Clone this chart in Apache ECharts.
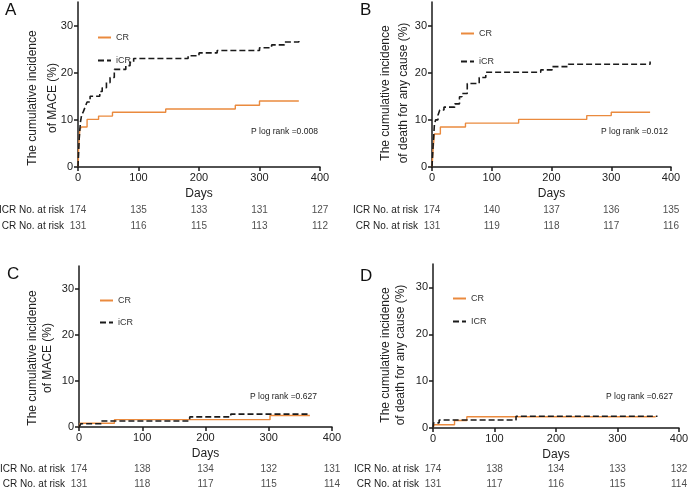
<!DOCTYPE html>
<html><head><meta charset="utf-8">
<script src="https://cdn.jsdelivr.net/npm/echarts@6/dist/echarts.min.js"></script>
<style>html,body{margin:0;padding:0;background:#fff}#c{width:692px;height:490px}</style>
</head><body><div id="c"></div>
<script>
const FONT = '"Liberation Sans", Arial, Helvetica, sans-serif';
const riskDays = [0, 100, 200, 300, 400];
const riskRows = ['ICR No. at risk', 'CR No. at risk'];
const yTicks = [0, 10, 20, 30];

// Panel A: MACE
const aIcrDays = [0, 2, 4, 6, 9, 12, 15, 20, 36, 40, 47, 53, 60, 79, 86, 92, 182, 200, 230, 300, 320, 341, 365];
const aIcrVals = [0, 6, 9.5, 11, 11.8, 12.8, 13.8, 15, 16, 16.8, 17.9, 19, 20.7, 21.5, 22.2, 23, 23.6, 24.2, 24.7, 25.3, 25.9, 26.5, 27.1];
const aCrDays = [0, 1, 3, 6, 15, 34, 57, 145, 260, 300, 365];
const aCrVals = [0, 4, 8, 8.5, 10.1, 10.8, 11.6, 12.3, 13.1, 14, 14.1];
const aRiskIcr = [174, 135, 133, 131, 127];
const aRiskCr = [131, 116, 115, 113, 112];

// Panel B: death for any cause
const bIcrDays = [0, 2, 4, 6, 10, 13, 20, 38, 46, 50, 59, 79, 90, 182, 201, 228, 365];
const bIcrVals = [0, 5, 8.9, 10, 11, 12.1, 12.7, 13.4, 14.9, 15.6, 17.7, 19, 20.1, 20.6, 21.3, 21.8, 22.4];
const bCrDays = [0, 2, 4, 14, 56, 145, 259, 300, 365];
const bCrVals = [0, 4, 7, 8.5, 9.3, 10.1, 10.9, 11.6, 11.7];
const bRiskIcr = [174, 140, 137, 136, 135];
const bRiskCr = [131, 119, 118, 117, 116];

// Panel C: MACE
const cIcrDays = [0, 3, 35, 175, 240, 365];
const cIcrVals = [0, 0.7, 1.3, 2.2, 2.8, 2.8];
const cCrDays = [0, 2, 56, 302, 365];
const cCrVals = [0, 0.8, 1.6, 2.5, 2.5];
const cRiskIcr = [174, 138, 134, 132, 131];
const cRiskCr = [131, 118, 117, 115, 114];

// Panel D: death for any cause
const dIcrDays = [0, 1, 10, 135, 365];
const dIcrVals = [0, 1.1, 1.7, 2.5, 2.5];
const dCrDays = [0, 2, 35, 55, 362];
const dCrVals = [0, 0.7, 1.6, 2.4, 2.4];
const dRiskIcr = [174, 138, 134, 133, 132];
const dRiskCr = [131, 117, 116, 115, 114];

const panels = [
  {letter:'A', lx:5, ly:2, grid:{left:78, top:2, width:242, height:165}, table:{left:78, top:202, width:242, height:32},
   icrName:'iCR', icrD:aIcrDays, icrV:aIcrVals, crD:aCrDays, crV:aCrVals, rI:aRiskIcr, rC:aRiskCr,
   title:'The cumulative incidence\nof MACE (%)', tx:43, ty:98, tlh:20, p:'P log rank =0.008', px:251, py:132,
   leg:{left:92, top:28, gap:14}},
  {letter:'B', lx:360, ly:2, grid:{left:432, top:2, width:239, height:165}, table:{left:432, top:202, width:239, height:32},
   icrName:'iCR', icrD:bIcrDays, icrV:bIcrVals, crD:bCrDays, crV:bCrVals, rI:bRiskIcr, rC:bRiskCr,
   title:'The cumulative incidence\nof death for any cause (%)', tx:395, ty:93, tlh:18, p:'P log rank =0.012', px:601, py:132,
   leg:{left:455, top:24, gap:19}},
  {letter:'C', lx:7, ly:266, grid:{left:79, top:266, width:253, height:161}, table:{left:79, top:461.5, width:253, height:30},
   icrName:'iCR', icrD:cIcrDays, icrV:cIcrVals, crD:cCrDays, crV:cCrVals, rI:cRiskIcr, rC:cRiskCr,
   title:'The cumulative incidence\nof MACE (%)', tx:40.5, ty:358, tlh:15, p:'P log rank =0.627', px:250, py:397,
   leg:{left:94, top:291, gap:13}},
  {letter:'D', lx:360, ly:268, grid:{left:433, top:264, width:246, height:164}, table:{left:433, top:461.5, width:246, height:30},
   icrName:'ICR', icrD:dIcrDays, icrV:dIcrVals, crD:dCrDays, crV:dCrVals, rI:dRiskIcr, rC:dRiskCr,
   title:'The cumulative incidence\nof death for any cause (%)', tx:393.5, ty:355, tlh:15, p:'P log rank =0.627', px:606, py:397,
   leg:{left:447, top:289, gap:14}}
];

const ORANGE = '#EA8A3E';
const BLACK = '#1a1a1a';
const grids = [], xAxes = [], yAxes = [], series = [], legends = [], graphics = [];

panels.forEach((p, i) => {
  const gi = grids.length;
  grids.push(Object.assign({outerBoundsMode:'none', containLabel:false}, p.grid));
  xAxes.push({gridIndex:gi, type:'value', min:0, max:400, interval:100,
    axisLine:{lineStyle:{color:BLACK, width:1.5}},
    axisTick:{length:4, lineStyle:{color:BLACK, width:1.5}},
    axisLabel:{fontSize:11, color:'#222', margin:5, fontFamily:FONT},
    splitLine:{show:false},
    name:'Days', nameLocation:'middle', nameGap:21,
    nameTextStyle:{fontSize:12, color:'#222', fontFamily:FONT}});
  yAxes.push({gridIndex:gi, type:'value', min:0, max:35, interval:10,
    axisLine:{show:true, lineStyle:{color:BLACK, width:1.5}},
    axisTick:{show:true, length:4, customValues:yTicks, lineStyle:{color:BLACK, width:1.5}},
    axisLabel:{fontSize:11, color:'#222', margin:5, customValues:yTicks, fontFamily:FONT},
    splitLine:{show:false}});
  series.push({type:'line', name:'CR', xAxisIndex:gi, yAxisIndex:gi, step:'end', symbol:'none',
    data:p.crD.map((d,k)=>[d, p.crV[k]]), z:3,
    lineStyle:{color:ORANGE, width:1.4, type:'solid'}, itemStyle:{color:ORANGE}});
  series.push({type:'line', name:p.icrName, xAxisIndex:gi, yAxisIndex:gi, step:'end', symbol:'none',
    data:p.icrD.map((d,k)=>[d, p.icrV[k]]), z:4,
    lineStyle:{color:BLACK, width:1.6, type:[6,3]}, itemStyle:{color:BLACK}});

  const ti = grids.length;
  grids.push(Object.assign({outerBoundsMode:'none', containLabel:false}, p.table));
  xAxes.push({gridIndex:ti, type:'value', min:0, max:400, show:false});
  yAxes.push({gridIndex:ti, type:'category', data:riskRows, inverse:true,
    axisLine:{show:false}, axisTick:{show:false}, splitLine:{show:false},
    axisLabel:{fontSize:10, color:'#222', margin:14, fontFamily:FONT}});
  const tData = [];
  riskDays.forEach((d,k)=>{ tData.push([d, 0, p.rI[k]]); tData.push([d, 1, p.rC[k]]); });
  series.push({type:'scatter', xAxisIndex:ti, yAxisIndex:ti, symbolSize:1, silent:true,
    itemStyle:{color:'rgba(0,0,0,0)'}, data:tData,
    label:{show:true, position:'inside', formatter:(q)=>q.value[2], fontSize:10, color:'#222', fontFamily:FONT}});

  legends.push({data:['CR', p.icrName], orient:'vertical', left:p.leg.left, top:p.leg.top,
    itemWidth:13, itemHeight:10, itemGap:p.leg.gap, selectedMode:false,
    itemStyle:{opacity:0},
    textStyle:{fontSize:9, color:'#333', fontFamily:FONT}});

  graphics.push({type:'text', left:p.lx, top:p.ly, style:{text:p.letter, fontSize:17, fill:'#111', fontFamily:FONT}});
  graphics.push({type:'text', x:p.tx, y:p.ty, rotation:Math.PI/2,
    style:{text:p.title, fontSize:12, lineHeight:p.tlh, fill:'#222', textAlign:'center', textVerticalAlign:'middle', fontFamily:FONT}});
  graphics.push({type:'text', x:p.px, y:p.py,
    style:{text:p.p, fontSize:8.5, fill:'#222', textAlign:'left', textVerticalAlign:'middle', fontFamily:FONT}});
});

const chart = echarts.init(document.getElementById('c'), null, {renderer:'canvas'});
chart.setOption({
  animation:false,
  backgroundColor:'#fff',
  textStyle:{fontFamily:FONT},
  grid:grids, xAxis:xAxes, yAxis:yAxes, series:series, legend:legends, graphic:graphics
});
</script></body></html>
